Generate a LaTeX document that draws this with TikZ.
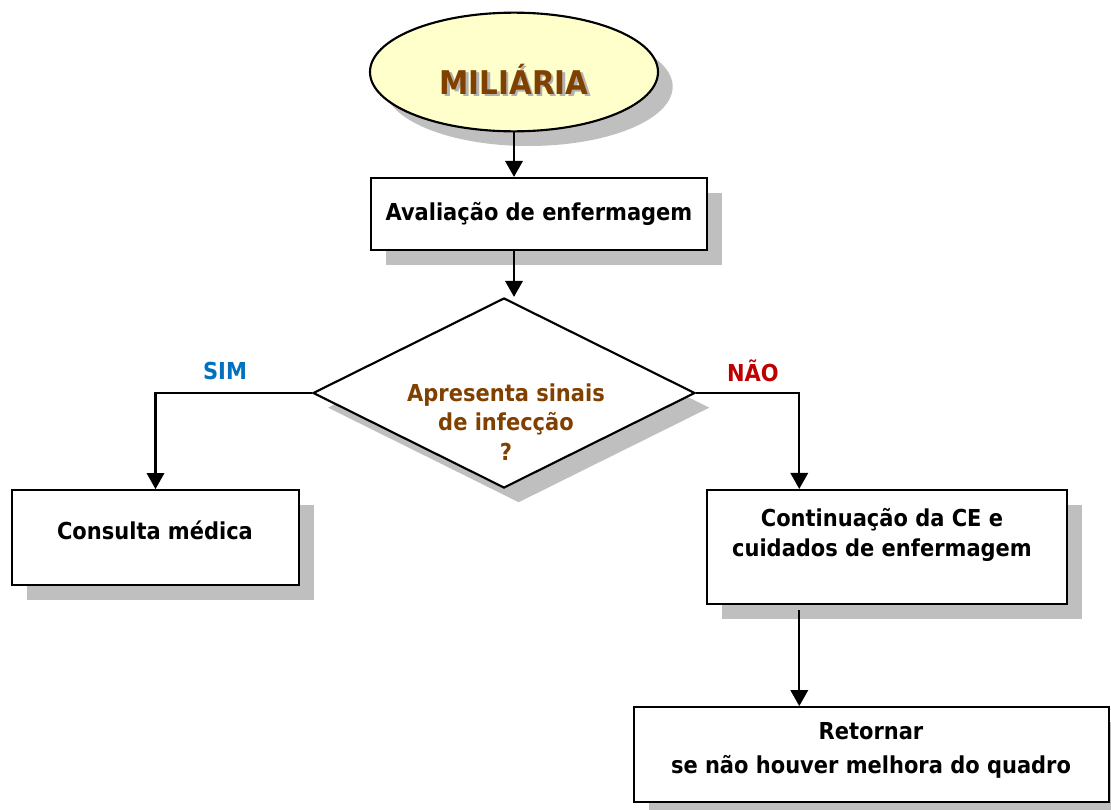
\documentclass[tikz,border=0pt]{standalone}
\usepackage{fontspec}
\setmainfont{DejaVu Sans Condensed}
\usetikzlibrary{shapes.geometric, shadows, arrows.meta}
\definecolor{brownish}{RGB}{128,64,0}
\definecolor{simblue}{RGB}{0,112,192}
\definecolor{naored}{RGB}{192,0,0}
\definecolor{lightyellow}{RGB}{255,255,204}

\begin{document}
\begin{tikzpicture}[x=0.75pt, y=-0.75pt,
    shade box/.style={drop shadow={shadow xshift=11pt, shadow yshift=-11pt, fill=gray!50, opacity=1}},
    box/.style={draw, line width=1.6pt, fill=white, shade box, inner sep=0pt},
    txt/.style={font=\bfseries\fontsize{17.5}{23}\selectfont, align=center, inner sep=0pt},
    arrow/.style={line width=1.8pt, -{Triangle[width=13pt, length=12pt]}}
  ]
    \useasboundingbox (0,0) rectangle (1111,810);

    % title
    \node [ellipse, draw, line width=1.6pt, fill=lightyellow, shade box, minimum width=216pt, minimum height=89pt, inner sep=0pt] (miliaria) at (514,72) {};
    \node [txt, gray!60, font=\bfseries\fontsize{24.5}{28}\selectfont] (miliariashadow) at (516.5,81.5) {MILIÁRIA};
    \node [txt, brownish, font=\bfseries\fontsize{24.5}{28}\selectfont] (miliariatxt) at (514,79) {MILIÁRIA};

    \node [box, txt, minimum width=252pt, minimum height=54pt] (avaliacao) at (539,214) {Avaliação de enfermagem};

    % decision
    \node [box, diamond, minimum width=286.5pt, minimum height=142.5pt] (infeccao) at (504,393) {};
    \node [txt, brownish, font=\bfseries\fontsize{17.5}{22}\selectfont] (infeccaotxt) at (506,422) {Apresenta sinais\\de infecção\\?};

    \node [txt, simblue] (sim) at (225,371) {SIM};
    \node [txt, naored] (nao) at (753,371) {NÃO};

    \node [box, minimum width=215pt, minimum height=71pt] (consulta) at (155.5,537.5) {};
    \node [txt] (consultatxt) at (155,530) {Consulta médica};

    \node [box, minimum width=270pt, minimum height=85.5pt] (continuacao) at (887,547) {};
    \node [txt] (continuacaotxt) at (882,535) {Continuação da CE e\\cuidados de enfermagem};

    \node [box, minimum width=356pt, minimum height=71pt] (retornar) at (871.5,754.5) {};
    \node [txt, font=\bfseries\fontsize{17.5}{25.5}\selectfont] (retornartxt) at (871,750) {Retornar\\se não houver melhora do quadro};

    \coordinate (naoend) at ([xshift=70pt]continuacao.north west);

    % connectors
    \draw [arrow] (miliaria.south) -- (miliaria.south |- avaliacao.north);
    \draw [arrow] (miliaria.south |- avaliacao.south) -- (miliaria.south |- infeccao.north);
    \draw [arrow] (infeccao.west) -| (consulta.north);
    \draw [arrow] (infeccao.east) -| (naoend);
    \draw [arrow] ([yshift=-4pt]naoend |- continuacao.south) -- (naoend |- retornar.north);
\end{tikzpicture}
\end{document}
